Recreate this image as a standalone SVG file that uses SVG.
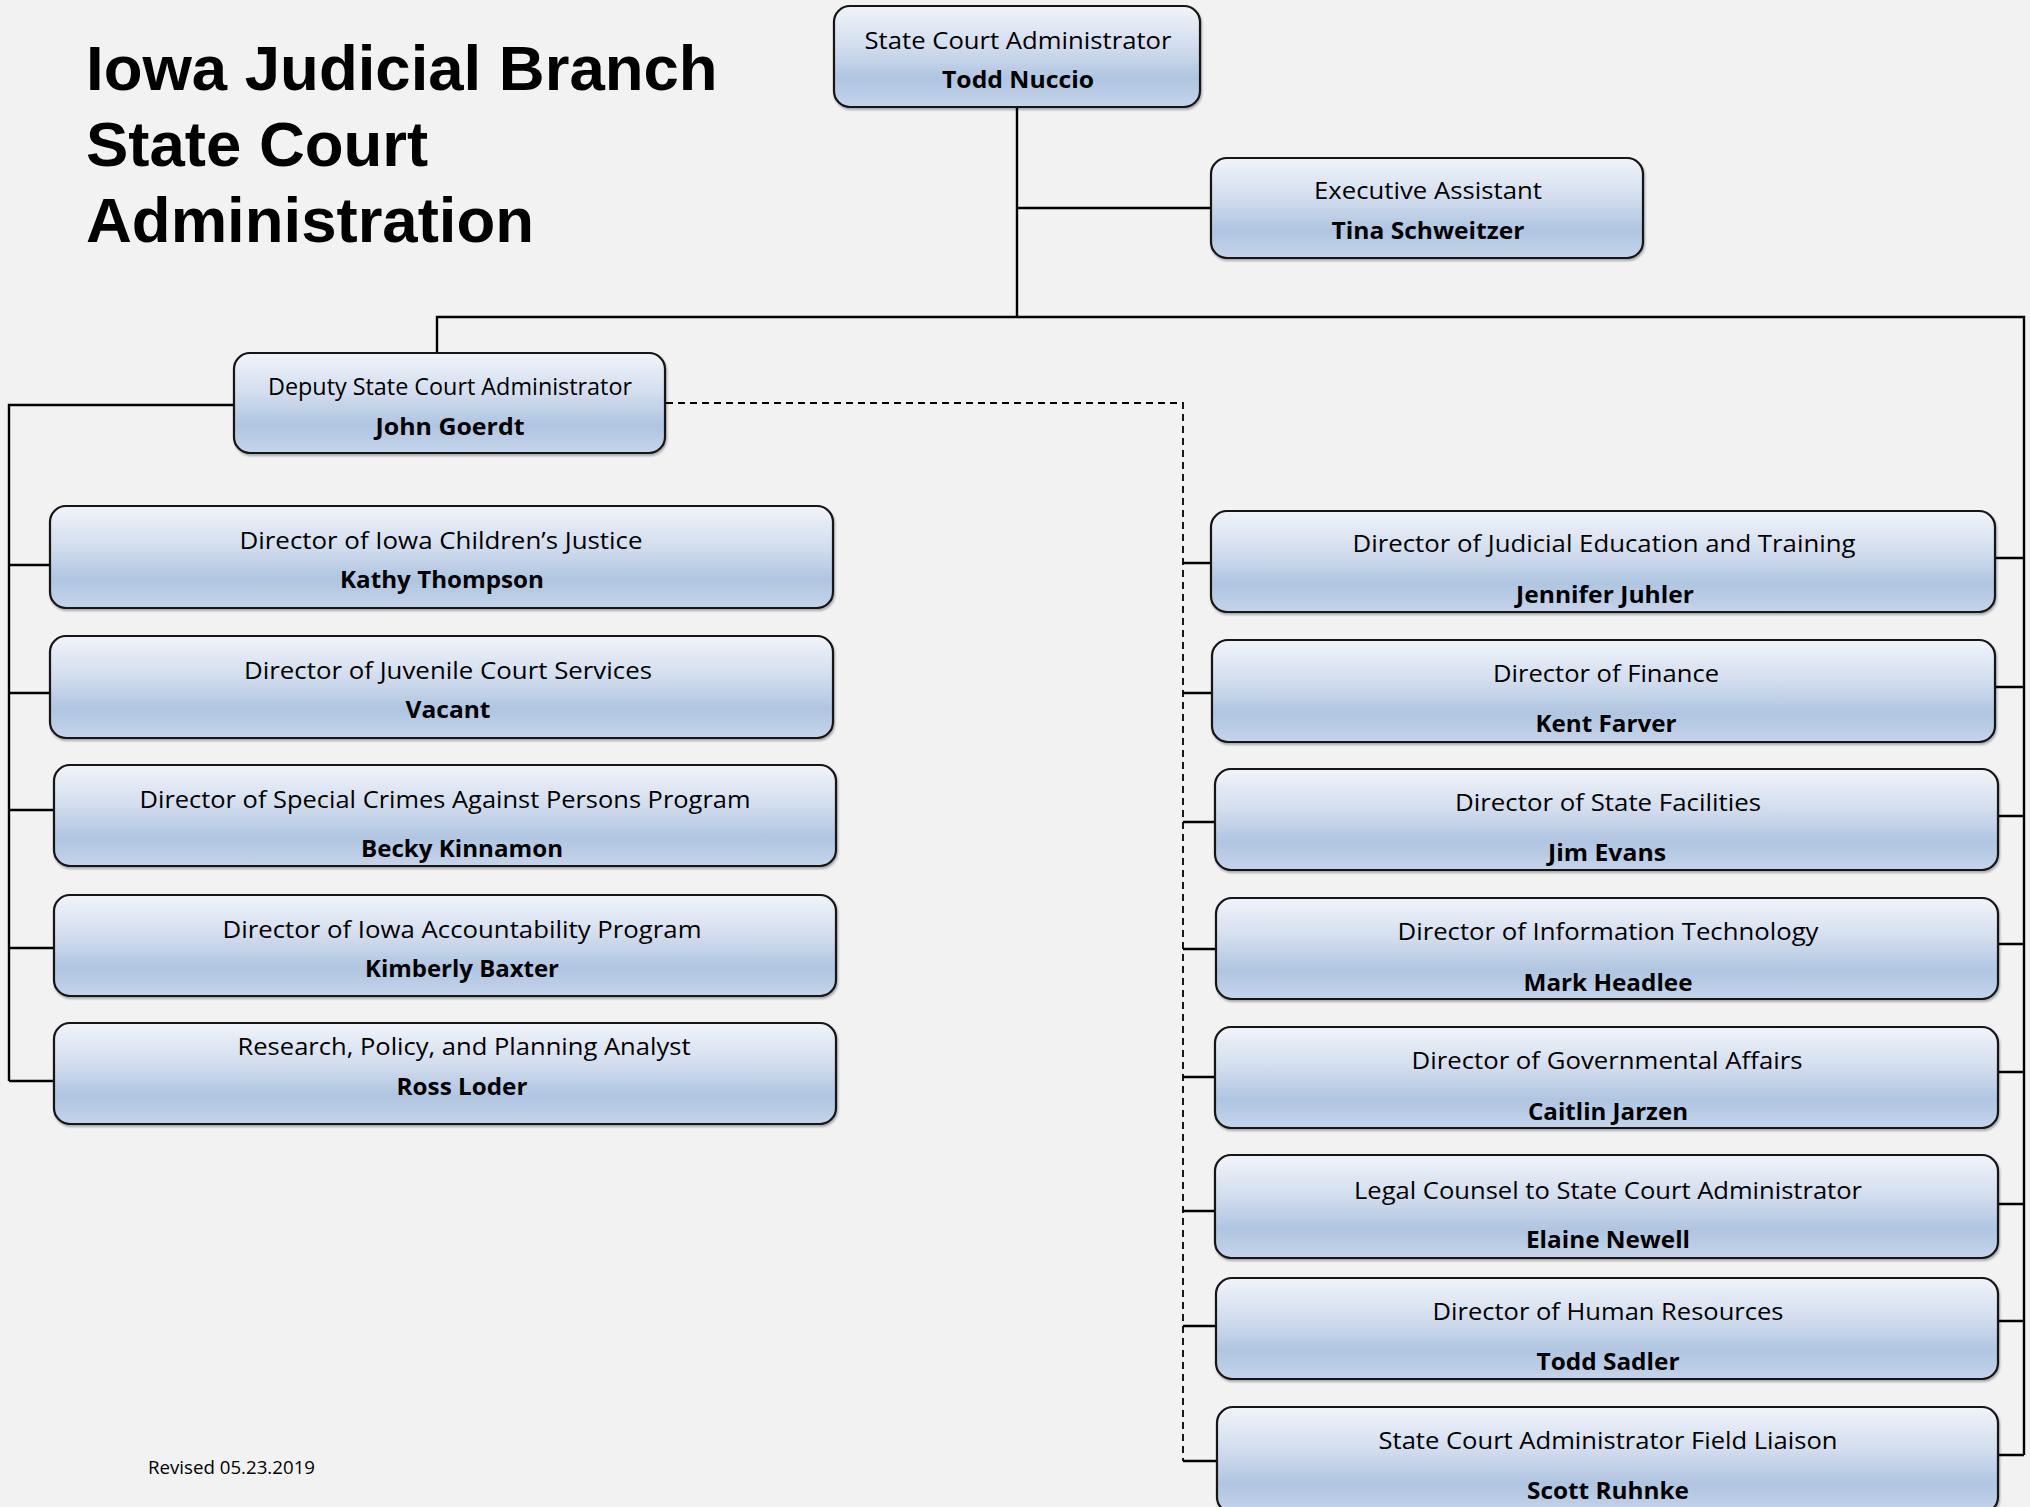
<svg xmlns="http://www.w3.org/2000/svg" width="2030" height="1507" viewBox="0 0 2030 1507">
<defs>
<linearGradient id="g" x1="0" y1="0" x2="0" y2="1">
<stop offset="0" stop-color="#f1f4fa"/>
<stop offset="0.4" stop-color="#d2ddee"/>
<stop offset="0.72" stop-color="#b0c5e1"/>
<stop offset="1" stop-color="#c4d4ea"/>
</linearGradient>
<filter id="sh" x="-5%" y="-10%" width="110%" height="125%">
<feDropShadow dx="1" dy="2" stdDeviation="1.2" flood-color="#000" flood-opacity="0.3"/>
</filter>
<style>
.box{fill:url(#g);stroke:#141414;stroke-width:2.2;filter:url(#sh)}
.ln{fill:none;stroke:#000;stroke-width:2.4}
.ds{fill:none;stroke:#000;stroke-width:1.8;stroke-dasharray:7 5}
.t{font-family:"Open Sans","Liberation Sans",sans-serif;font-size:23px;fill:#000;text-anchor:middle}
.n{font-family:"Open Sans","Liberation Sans",sans-serif;font-size:23px;font-weight:bold;fill:#000;text-anchor:middle}
.h{font-family:"Liberation Sans",Arial,sans-serif;font-size:63.5px;font-weight:bold;fill:#000}
.r{font-family:"Open Sans","Liberation Sans",sans-serif;font-size:18px;fill:#000}
</style>
</defs>
<rect width="2030" height="1507" fill="#f2f2f2"/>

<g id="title">
<text class="h" x="86" y="90">Iowa Judicial Branch</text>
<text class="h" x="86" y="166">State Court</text>
<text class="h" x="86" y="242">Administration</text>
</g>
<text id="revised" class="r" x="148" y="1474" textLength="167" lengthAdjust="spacingAndGlyphs">Revised 05.23.2019</text>

<g id="connectors">
<path class="ln" d="M1017,107 V317 M1017,208 H1211 M437,353 V317 H2024 V1455"/>
<path class="ln" d="M234,405 H9 V1081 M9,565 H50 M9,693 H50 M9,810 H54 M9,948 H54 M9,1081 H54"/>
<path class="ln" d="M1995,558 H2024 M1995,687 H2024 M1998,816 H2024 M1998,944 H2024 M1998,1072 H2024 M1998,1204 H2024 M1998,1321 H2024 M1998,1455 H2024"/>
<path class="ds" d="M666,403 H1183 V1461"/>
<path class="ln" d="M1183,563 H1211 M1183,693 H1212 M1183,822 H1215 M1183,949 H1216 M1183,1077 H1215 M1183,1211 H1215 M1183,1326 H1216 M1183,1461 H1217"/>
</g>

<g id="n-sca">
<rect class="box" x="834" y="6" width="366" height="101" rx="16"/>
<text class="t" x="1018" y="49" textLength="307" lengthAdjust="spacingAndGlyphs">State Court Administrator</text>
<text class="n" x="1018" y="88" textLength="152" lengthAdjust="spacingAndGlyphs">Todd Nuccio</text>
</g>
<g id="n-exec">
<rect class="box" x="1211" y="158" width="432" height="100" rx="16"/>
<text class="t" x="1428" y="199" textLength="228" lengthAdjust="spacingAndGlyphs">Executive Assistant</text>
<text class="n" x="1428" y="239" textLength="193" lengthAdjust="spacingAndGlyphs">Tina Schweitzer</text>
</g>
<g id="n-deputy">
<rect class="box" x="234" y="353" width="431" height="100" rx="16"/>
<text class="t" x="450" y="395" textLength="364" lengthAdjust="spacingAndGlyphs">Deputy State Court Administrator</text>
<text class="n" x="450" y="435" textLength="149" lengthAdjust="spacingAndGlyphs">John Goerdt</text>
</g>

<g id="n-children">
<rect class="box" x="50" y="506" width="783" height="102" rx="16"/>
<text class="t" x="441" y="549" textLength="403" lengthAdjust="spacingAndGlyphs">Director of Iowa Children’s Justice</text>
<text class="n" x="442" y="588" textLength="204" lengthAdjust="spacingAndGlyphs">Kathy Thompson</text>
</g>
<g id="n-juvenile">
<rect class="box" x="50" y="636" width="783" height="102" rx="16"/>
<text class="t" x="448" y="679" textLength="408" lengthAdjust="spacingAndGlyphs">Director of Juvenile Court Services</text>
<text class="n" x="448" y="718" textLength="85" lengthAdjust="spacingAndGlyphs">Vacant</text>
</g>
<g id="n-crimes">
<rect class="box" x="54" y="765" width="782" height="101" rx="16"/>
<text class="t" x="445" y="808" textLength="611" lengthAdjust="spacingAndGlyphs">Director of Special Crimes Against Persons Program</text>
<text class="n" x="462" y="857" textLength="202" lengthAdjust="spacingAndGlyphs">Becky Kinnamon</text>
</g>
<g id="n-accountability">
<rect class="box" x="54" y="895" width="782" height="101" rx="16"/>
<text class="t" x="462" y="938" textLength="479" lengthAdjust="spacingAndGlyphs">Director of Iowa Accountability Program</text>
<text class="n" x="462" y="977" textLength="194" lengthAdjust="spacingAndGlyphs">Kimberly Baxter</text>
</g>
<g id="n-research">
<rect class="box" x="54" y="1023" width="782" height="101" rx="16"/>
<text class="t" x="464" y="1055" textLength="453" lengthAdjust="spacingAndGlyphs">Research, Policy, and Planning Analyst</text>
<text class="n" x="462" y="1095" textLength="131" lengthAdjust="spacingAndGlyphs">Ross Loder</text>
</g>

<g id="n-education">
<rect class="box" x="1211" y="511" width="784" height="101" rx="16"/>
<text class="t" x="1604" y="552" textLength="503" lengthAdjust="spacingAndGlyphs">Director of Judicial Education and Training</text>
<text class="n" x="1605" y="603" textLength="178" lengthAdjust="spacingAndGlyphs">Jennifer Juhler</text>
</g>
<g id="n-finance">
<rect class="box" x="1212" y="640" width="783" height="102" rx="16"/>
<text class="t" x="1606" y="682" textLength="226" lengthAdjust="spacingAndGlyphs">Director of Finance</text>
<text class="n" x="1606" y="732" textLength="141" lengthAdjust="spacingAndGlyphs">Kent Farver</text>
</g>
<g id="n-facilities">
<rect class="box" x="1215" y="769" width="783" height="101" rx="16"/>
<text class="t" x="1608" y="811" textLength="306" lengthAdjust="spacingAndGlyphs">Director of State Facilities</text>
<text class="n" x="1607" y="861" textLength="118" lengthAdjust="spacingAndGlyphs">Jim Evans</text>
</g>
<g id="n-it">
<rect class="box" x="1216" y="898" width="782" height="101" rx="16"/>
<text class="t" x="1608" y="940" textLength="421" lengthAdjust="spacingAndGlyphs">Director of Information Technology</text>
<text class="n" x="1608" y="991" textLength="169" lengthAdjust="spacingAndGlyphs">Mark Headlee</text>
</g>
<g id="n-governmental">
<rect class="box" x="1215" y="1027" width="783" height="101" rx="16"/>
<text class="t" x="1607" y="1069" textLength="391" lengthAdjust="spacingAndGlyphs">Director of Governmental Affairs</text>
<text class="n" x="1608" y="1120" textLength="160" lengthAdjust="spacingAndGlyphs">Caitlin Jarzen</text>
</g>
<g id="n-legal">
<rect class="box" x="1215" y="1155" width="783" height="103" rx="16"/>
<text class="t" x="1608" y="1199" textLength="508" lengthAdjust="spacingAndGlyphs">Legal Counsel to State Court Administrator</text>
<text class="n" x="1608" y="1248" textLength="164" lengthAdjust="spacingAndGlyphs">Elaine Newell</text>
</g>
<g id="n-hr">
<rect class="box" x="1216" y="1278" width="782" height="101" rx="16"/>
<text class="t" x="1608" y="1320" textLength="351" lengthAdjust="spacingAndGlyphs">Director of Human Resources</text>
<text class="n" x="1608" y="1370" textLength="143" lengthAdjust="spacingAndGlyphs">Todd Sadler</text>
</g>
<g id="n-liaison">
<rect class="box" x="1217" y="1407" width="781" height="106" rx="16"/>
<text class="t" x="1608" y="1449" textLength="459" lengthAdjust="spacingAndGlyphs">State Court Administrator Field Liaison</text>
<text class="n" x="1608" y="1499" textLength="162" lengthAdjust="spacingAndGlyphs">Scott Ruhnke</text>
</g>
</svg>
